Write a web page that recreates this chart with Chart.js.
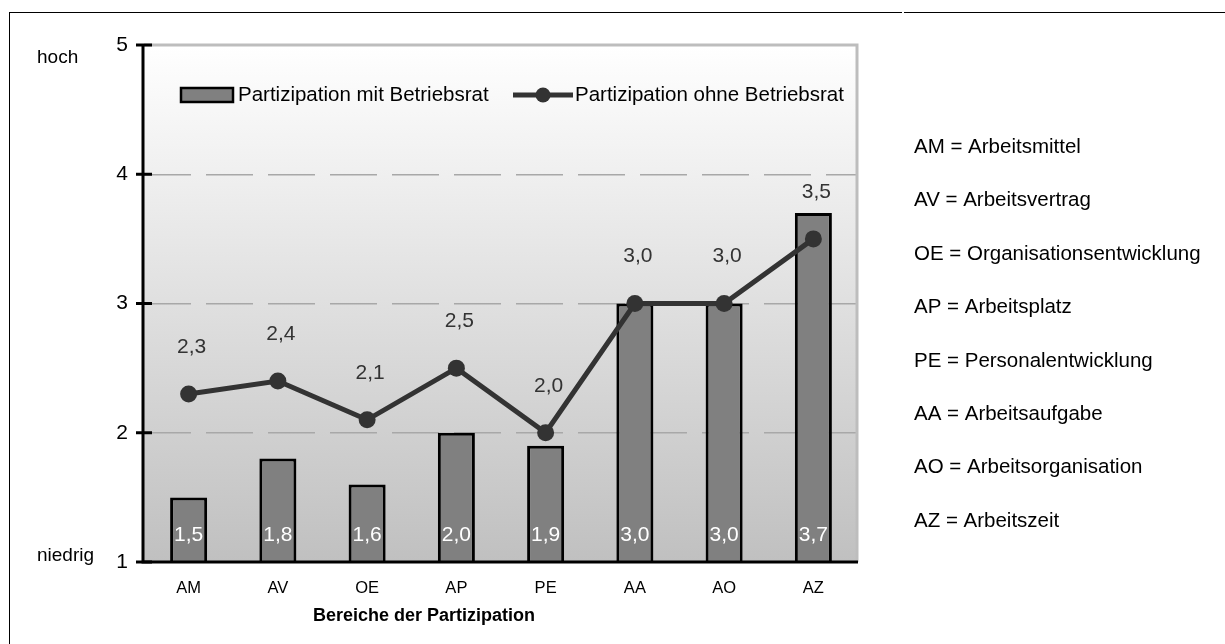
<!DOCTYPE html>
<html>
<head>
<meta charset="utf-8">
<script src="https://cdn.jsdelivr.net/npm/chart.js@4.4.0/dist/chart.umd.min.js"></script>
<style>
  html, body { margin: 0; padding: 0; background: #fff; }
  #wrap { position: relative; width: 1225px; height: 644px; overflow: hidden; }
  #chart { position: absolute; left: 0; top: 0; }
  #frame { position: absolute; left: 9px; top: 12px; width: 1230px; height: 650px;
           border-top: 1px solid #000; border-left: 1px solid #000; }
  #gap { position: absolute; left: 902px; top: 10px; width: 2px; height: 5px; background: #fff; }
</style>
</head>
<body>
<div id="wrap">
  <canvas id="chart" width="1225" height="644"></canvas>
  <div id="frame"></div>
  <div id="gap"></div>
</div>
<script>
// Bereiche der Partizipation (Kurzform)
const categories = ['AM', 'AV', 'OE', 'AP', 'PE', 'AA', 'AO', 'AZ'];
const seriesNames = ['Partizipation mit Betriebsrat', 'Partizipation ohne Betriebsrat'];
// Mittelwerte je Bereich
const withCouncil = [1.5, 1.8, 1.6, 2.0, 1.9, 3.0, 3.0, 3.7];
const withoutCouncil = [2.3, 2.4, 2.1, 2.5, 2.0, 3.0, 3.0, 3.5];
const yTicks = [1, 2, 3, 4, 5];
const scaleEnds = ['niedrig', 'hoch'];
const xAxisTitle = 'Bereiche der Partizipation';
const keyEntries = [
  'AM = Arbeitsmittel',
  'AV = Arbeitsvertrag',
  'OE = Organisationsentwicklung',
  'AP = Arbeitsplatz',
  'PE = Personalentwicklung',
  'AA = Arbeitsaufgabe',
  'AO = Arbeitsorganisation',
  'AZ = Arbeitszeit'
];

const FONT = '"Liberation Sans", Arial, Helvetica, sans-serif';
const fmt = v => v.toFixed(1).replace('.', ',');
Chart.defaults.font.family = FONT;

const decor = {
  id: 'decor',
  beforeDraw(chart) {
    const { ctx, chartArea: a } = chart;
    ctx.save();
    ctx.fillStyle = '#fff';
    ctx.fillRect(0, 0, chart.width, chart.height);
    const g = ctx.createLinearGradient(0, a.top, 0, a.bottom);
    g.addColorStop(0, '#ffffff');
    g.addColorStop(1, '#c0c0c0');
    ctx.fillStyle = g;
    ctx.fillRect(a.left, a.top, a.right - a.left, a.bottom - a.top);
    ctx.restore();
  },
  beforeDatasetsDraw(chart) {
    const { ctx, chartArea: a } = chart;
    ctx.save();
    ctx.strokeStyle = '#bdbdbd';
    ctx.lineWidth = 3;
    ctx.beginPath();
    ctx.moveTo(a.left, a.top);
    ctx.lineTo(a.right - 1, a.top);
    ctx.lineTo(a.right - 1, a.bottom);
    ctx.stroke();
    ctx.restore();
  },
  afterDatasetsDraw(chart) {
    const { ctx, chartArea: a, scales } = chart;
    const y = scales.y;
    ctx.save();
    // Achsen
    ctx.strokeStyle = '#000';
    ctx.lineWidth = 3;
    ctx.beginPath();
    ctx.moveTo(a.left - 1, a.top - 1);
    ctx.lineTo(a.left - 1, a.bottom);
    ctx.lineTo(a.right, a.bottom);
    ctx.stroke();
    // Teilstriche, die die Achse kreuzen
    yTicks.forEach(v => {
      const py = y.getPixelForValue(v);
      ctx.beginPath();
      ctx.moveTo(a.left - 8, py);
      ctx.lineTo(a.left + 8, py);
      ctx.stroke();
    });
    // Wertebeschriftungen
    ctx.font = '21px ' + FONT;
    ctx.textAlign = 'center';
    ctx.textBaseline = 'middle';
    chart.data.datasets.forEach((ds, di) => {
      const meta = chart.getDatasetMeta(di);
      meta.data.forEach((el, i) => {
        if (ds.type === 'bar') {
          ctx.fillStyle = '#ffffff';
          ctx.fillText(fmt(ds.data[i]), el.x, a.bottom - 27);
        } else {
          ctx.fillStyle = '#333333';
          ctx.fillText(fmt(ds.data[i]), el.x + 3, el.y - 47);
        }
      });
    });
    ctx.restore();
  },
  afterDraw(chart) {
    const { ctx } = chart;
    const ds = chart.data.datasets;
    const barDs = ds.find(d => d.type === 'bar');
    const lineDs = ds.find(d => d.type === 'line');
    ctx.save();
    // Legende
    ctx.fillStyle = barDs.backgroundColor;
    ctx.fillRect(181, 88, 52, 14);
    ctx.strokeStyle = '#000';
    ctx.lineWidth = 2.5;
    ctx.strokeRect(181, 88, 52, 14);
    ctx.strokeStyle = lineDs.borderColor;
    ctx.lineWidth = 5;
    ctx.beginPath();
    ctx.moveTo(513, 95);
    ctx.lineTo(573, 95);
    ctx.stroke();
    ctx.fillStyle = lineDs.pointBackgroundColor;
    ctx.beginPath();
    ctx.arc(543, 95, 7.5, 0, Math.PI * 2);
    ctx.fill();
    ctx.fillStyle = '#000';
    ctx.font = '20.5px ' + FONT;
    ctx.textAlign = 'left';
    ctx.textBaseline = 'middle';
    ctx.fillText(barDs.label, 238, 95);
    ctx.fillText(lineDs.label, 575, 95);
    // Skalenenden
    ctx.textBaseline = 'alphabetic';
    ctx.font = '19px ' + FONT;
    ctx.fillText(scaleEnds[1], 37, 63);
    ctx.fillText(scaleEnds[0], 37, 561);
    // Abkürzungen
    ctx.font = '20.5px ' + FONT;
    keyEntries.forEach((t, i) => ctx.fillText(t, 914, 153 + i * 53.4));
    // Achsentitel
    ctx.font = 'bold 18px ' + FONT;
    ctx.textAlign = 'center';
    ctx.textBaseline = 'middle';
    ctx.fillText(xAxisTitle, 424, 616);
    ctx.restore();
  }
};

new Chart(document.getElementById('chart'), {
  data: {
    labels: categories,
    datasets: [
      {
        type: 'line',
        label: seriesNames[1],
        data: withoutCouncil,
        borderColor: '#333333',
        borderWidth: 5,
        pointRadius: 8.5,
        pointBackgroundColor: '#333333',
        pointBorderColor: '#333333',
        pointBorderWidth: 0,
        tension: 0,
        order: 0
      },
      {
        type: 'bar',
        label: seriesNames[0],
        data: withCouncil,
        base: 1,
        backgroundColor: '#808080',
        borderColor: '#000000',
        borderWidth: 3,
        borderSkipped: 'start',
        barPercentage: 0.415,
        categoryPercentage: 1,
        order: 1
      }
    ]
  },
  options: {
    responsive: false,
    animation: false,
    devicePixelRatio: 1,
    layout: { padding: { left: 0, right: 367, top: 45, bottom: 0 } },
    plugins: { legend: { display: false }, tooltip: { enabled: false } },
    scales: {
      x: {
        type: 'category',
        offset: true,
        grid: { display: false, drawTicks: false },
        border: { display: false },
        ticks: { color: '#000', font: { size: 16.5 }, padding: 17, maxRotation: 0, autoSkip: false },
        afterFit(s) { s.height = 82; }
      },
      y: {
        type: 'linear',
        min: 1,
        max: 5,
        afterBuildTicks(s) { s.ticks = yTicks.map(v => ({ value: v })); },
        grid: {
          color: c => (c.tick && (c.tick.value === 1 || c.tick.value === 5)) ? 'rgba(0,0,0,0)' : '#a8a8a8',
          lineWidth: 1.5,
          drawTicks: false
        },
        border: { display: false, dash: [47, 15] },
        ticks: { color: '#000', font: { size: 21 }, padding: 16 },
        afterFit(s) { s.width = 144; }
      }
    }
  },
  plugins: [decor]
});
</script>
</body>
</html>
